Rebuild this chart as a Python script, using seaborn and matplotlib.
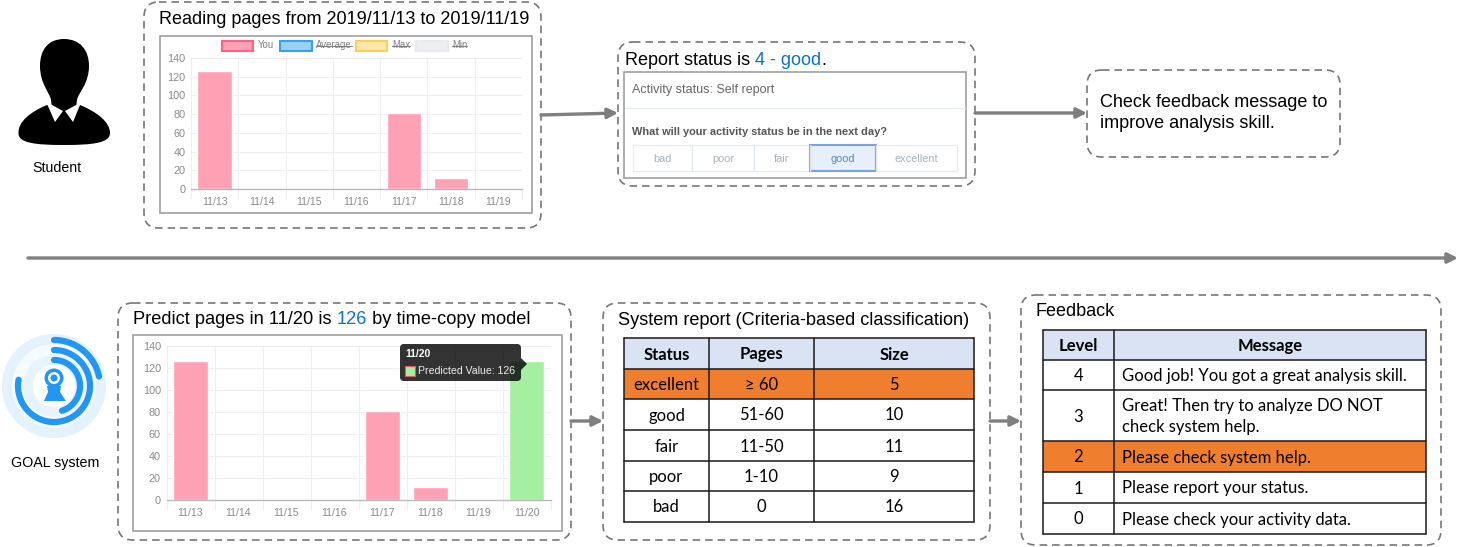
import numpy as np
import matplotlib
matplotlib.use("Agg")
import matplotlib.pyplot as plt
import seaborn as sns
from matplotlib.patches import FancyBboxPatch, Rectangle, Circle, PathPatch, Polygon
from matplotlib.path import Path

W, H = 1458, 547

# data
days_week = ["11/13", "11/14", "11/15", "11/16", "11/17", "11/18", "11/19"]
pages_week = [126, 0, 0, 0, 81, 12, 0]
days_pred = days_week + ["11/20"]
pages_pred = pages_week + [126]
series_pred = ["You"] * 7 + ["Predicted"]
legend_names = ["You", "Average", "Max", "Min"]
y_ticks = [0, 20, 40, 60, 80, 100, 120, 140]
status_btns = ["bad", "poor", "fair", "good", "excellent"]

report_head = ["Status", "Pages", "Size"]
report_status = ["excellent", "good", "fair", "poor", "bad"]
report_pages = ["≥ 60", "51-60", "11-50", "1-10", "0"]
report_size = ["5", "10", "11", "9", "16"]

fb_head = ["Level", "Message"]
fb_level = ["4", "3", "2", "1", "0"]
fb_msg = ["Good job! You got a great analysis skill.",
          "Great! Then try to analyze DO NOT\ncheck system help.",
          "Please check system help.",
          "Please report your status.",
          "Please check your activity data."]

PINK = "#FFA1B5"
GREEN = "#A5F0A0"
BLUE = "#0F72C8"
ORANGE = "#EF7E2E"
HEAD = "#DAE3F3"
GREY = "#7F7F7F"
SANS = ["Liberation Sans", "DejaVu Sans"]
TBL = ["Lato", "DejaVu Sans"]

sns.set_theme(style="white")
plt.rcParams["font.family"] = SANS

fig = plt.figure(figsize=(W / 100, H / 100), dpi=100)


def px_axes(x0, y0, x1, y1):
    return fig.add_axes([x0 / W, 1 - y1 / H, (x1 - x0) / W, (y1 - y0) / H])


def bar_chart(box, days, vals, palette, hue):
    a = px_axes(*box)
    sns.barplot(x=days, y=vals, hue=hue, palette=palette, dodge=False, width=0.73,
                saturation=1, legend=False, ax=a)
    n = len(days)
    a.set_xlim(-0.5, n - 0.5)
    a.set_ylim(0, 140)
    a.set_yticks(y_ticks)
    a.set_xticks(np.arange(-0.5, n), minor=True)
    a.grid(True, axis="y", color="#EFEFEF", lw=0.8)
    a.grid(True, axis="x", which="minor", color="#EFEFEF", lw=0.8)
    a.set_axisbelow(True)
    a.tick_params(axis="x", which="major", length=0, pad=6, labelsize=7.6, labelcolor="#8A8A8A")
    a.tick_params(axis="x", which="minor", bottom=True, length=7, color="#EFEFEF", width=0.8)
    a.tick_params(axis="y", length=0, pad=4, labelsize=7.8, labelcolor="#8A8A8A")
    for s in ["top", "right", "left"]:
        a.spines[s].set_visible(False)
    a.spines["bottom"].set_color("#B5B5B5")
    a.spines["bottom"].set_linewidth(0.9)
    return a


bar_chart((191, 58, 522, 189), days_week, pages_week, {"You": PINK}, ["You"] * 7)
bar_chart((166.5, 346, 550.5, 500), days_pred, pages_pred, {"You": PINK, "Predicted": GREEN}, series_pred)

# overlay in pixel coordinates
ov = fig.add_axes([0, 0, 1, 1], zorder=10)
ov.set_xlim(0, W)
ov.set_ylim(H, 0)
ov.axis("off")
ov.patch.set_alpha(0)


def dashed(x0, y0, x1, y1):
    ov.add_patch(FancyBboxPatch((x0, y0), x1 - x0, y1 - y0, boxstyle="round,pad=0,rounding_size=15",
                                fc="none", ec="#777777", lw=1.2, ls=(0, (4.5, 3))))


def frame(x0, y0, x1, y1):
    ov.add_patch(Rectangle((x0, y0), x1 - x0, y1 - y0, fc="none", ec="#A0A0A0", lw=1.2))


def pieces(x, y, parts, size):
    # text with coloured words, placed one after the other
    r = fig.canvas.get_renderer()
    for s, c in parts:
        t = ov.text(x, y, s, color=c, fontsize=size, va="center", ha="left", family=SANS)
        x += t.get_window_extent(r).width


def arrow(x0, y0, x1, y1):
    ov.annotate("", xy=(x1, y1), xytext=(x0, y0),
                arrowprops=dict(arrowstyle="-|>,head_length=0.5,head_width=0.25", color=GREY, lw=2.4,
                                shrinkA=0, shrinkB=0))


for b in [(144, 2, 541, 228), (618, 42, 975, 186), (1087, 70, 1340, 157),
          (118, 303, 571, 540), (603, 303, 990, 540), (1021, 295, 1441, 545)]:
    dashed(*b)
frame(160, 36, 532, 213)
frame(133, 335, 562, 531)
frame(624, 72, 966, 178)

arrow(541, 115, 618, 113)
arrow(975, 113, 1087, 113)
arrow(571, 421, 603, 421)
arrow(990, 421, 1021, 421)
arrow(28, 258, 1458, 258)

pieces(159, 19, [("Reading pages from 2019/11/13 to 2019/11/19", "black")], 12.95)
pieces(625, 60.5, [("Report status is ", "black"), ("4 - good", BLUE), (".", "black")], 13)
pieces(133, 319, [("Predict pages in 11/20 is ", "black"), ("126", BLUE), (" by time-copy model", "black")], 13.15)
pieces(618, 320.5, [("System report (Criteria-based classification)", "black")], 13.1)
pieces(1036, 311.5, [("Feedback", "black")], 13)
ov.text(1100, 113, "Check feedback message to\nimprove analysis skill.", fontsize=13, va="center",
        ha="left", linespacing=1.32, color="black")
ov.text(57, 168, "Student", fontsize=10.2, ha="center", va="center", color="black")
ov.text(55, 462.5, "GOAL system", fontsize=10.3, ha="center", va="center", color="black")

# legend of the top chart
leg_x = [(222, 253, 258), (280, 312, 316), (356, 387, 392), (416, 448, 452)]
leg_fc = ["#FFA1B5", "#9AD0F5", "#FFE6AA", "#EDEEF1"]
leg_ec = ["#FF6384", "#36A2EB", "#FFCE56", "#E7E9ED"]
for i, name in enumerate(legend_names):
    x0, x1, tx = leg_x[i]
    ov.add_patch(Rectangle((x0, 40.5), x1 - x0, 10, fc=leg_fc[i], ec=leg_ec[i], lw=1.5))
    t = ov.text(tx, 45.5, name, fontsize=6.9, color="#808080", va="center", ha="left")
    if i > 0:
        w = t.get_window_extent(fig.canvas.get_renderer()).width
        ov.plot([tx, tx + w], [45.5, 45.5], color="#808080", lw=0.8)

# tooltip
ov.add_patch(FancyBboxPatch((400, 344), 121, 37, boxstyle="round,pad=0,rounding_size=4", fc="#000000",
                            ec="none", alpha=0.8))
ov.add_patch(Polygon([(521, 358), (527, 364), (521, 370)], fc="#000000", ec="none", alpha=0.8))
ov.text(405, 354, "11/20", fontsize=7.5, color="white", weight="bold", va="center")
ov.add_patch(Rectangle((405, 365.5), 10.5, 10.5, fc=GREEN, ec="#F05060", lw=0.8))
ov.text(418, 370.5, "Predicted Value: 126", fontsize=7.6, color="#EEEEEE", va="center")

# self report form
ov.plot([625, 965], [108, 108], color="#E3EAF0", lw=0.8)
ov.text(632, 90, "Activity status: Self report", fontsize=9, color="#666666", va="center")
ov.text(632, 132, "What will your activity status be in the next day?", fontsize=7.9, color="#555555",
        weight="bold", va="center")
btn_edges = [633, 692, 754, 810, 876, 957]
ov.add_patch(Rectangle((633, 145), 324, 26, fc="none", ec="#E6EBF2", lw=0.9))
for i, name in enumerate(status_btns):
    x0, x1 = btn_edges[i], btn_edges[i + 1]
    on = name == "good"
    if i > 0:
        ov.plot([x0, x0], [145, 171], color="#E0E6EE", lw=0.9)
    ov.text((x0 + x1) / 2, 158.5, name, fontsize=7.9, ha="center", va="center",
            color="#5B87C4" if on else "#ABB2BC")
sel = btn_edges[status_btns.index("good")]
ov.add_patch(Rectangle((sel, 145), 66, 26, fc="#E6EFFA", ec="#78A5E0", lw=1.5, zorder=1))


def table(col_x, row_y, rows, hi, aligns):
    for r, cells in enumerate(rows):
        y0, y1 = row_y[r], row_y[r + 1]
        fc = HEAD if r == 0 else (ORANGE if r == hi else "white")
        ov.add_patch(Rectangle((col_x[0], y0), col_x[-1] - col_x[0], y1 - y0, fc=fc, ec="none"))
        for c, s in enumerate(cells):
            al = "center" if r == 0 else aligns[c]
            tx = (col_x[c] + col_x[c + 1]) / 2 if al == "center" else col_x[c] + 8
            ov.text(tx, (y0 + y1) / 2 + 1, s, ha=al, va="center", fontsize=12, family=TBL, color="black",
                    weight="bold" if r == 0 else "normal", linespacing=1.38)
    for y in row_y:
        ov.plot([col_x[0], col_x[-1]], [y, y], color="#1A1A1A", lw=1.1)
    for x in col_x:
        ov.plot([x, x], [row_y[0], row_y[-1]], color="#1A1A1A", lw=1.1)


table([624, 709, 814, 974], [338, 369, 399, 430, 461, 491, 522],
      [report_head] + [list(t) for t in zip(report_status, report_pages, report_size)], 1,
      ["center", "center", "center"])
table([1043, 1114, 1426], [330, 360, 390, 441, 472, 503, 534],
      [fb_head] + [list(t) for t in zip(fb_level, fb_msg)], 3, ["center", "left"])

# student icon
head = Path([(64, 39), (80, 39), (89, 50), (89, 66), (89, 84), (78, 93), (77, 100), (76, 108),
             (52, 108), (51, 100), (50, 93), (40, 84), (40, 66), (40, 50), (48, 39), (64, 39)],
            [Path.MOVETO] + [Path.CURVE4] * 6 + [Path.LINETO] * 3 + [Path.CURVE4] * 6)
body = Path([(47, 105), (30, 112), (18, 122), (18.5, 133), (18, 143), (35, 145), (64, 145),
             (93, 145), (110, 143), (110, 133), (110, 122), (97, 112), (80, 105), (47, 105)],
            [Path.MOVETO] + [Path.CURVE4] * 12 + [Path.CLOSEPOLY])
ov.add_patch(PathPatch(body, fc="black", ec="none"))
ov.add_patch(PathPatch(head, fc="black", ec="none"))
ov.add_patch(Polygon([(47.5, 105), (55, 122), (63, 111), (52, 105)], fc="white", ec="none"))
ov.add_patch(Polygon([(80, 105), (73, 122), (65, 111), (76, 105)], fc="white", ec="none"))

# goal system icon
cx, cy = 54, 386
ov.add_patch(Circle((cx, cy), 52, fc="#E3F2FD", ec="none"))
ov.add_patch(Circle((cx, cy), 42, fc="#F6FBFF", ec="none"))
ov.add_patch(Circle((cx, cy), 31, fc="#E8F4FD", ec="none"))
ov.add_patch(Circle((cx, cy), 21, fc="white", ec="none"))
for r, a0, a1 in [(46, 90, 12), (36, 90, -190), (26, 90, -72)]:
    t = np.radians(np.linspace(a0, a1, 80))
    ov.plot(cx + r * np.cos(t), cy - r * np.sin(t), color="#2196F3", lw=4.5, solid_capstyle="round")
ov.add_patch(Circle((cx, cy - 8), 9.5, fc="#2196F3", ec="none"))
ov.add_patch(Polygon([(47, cy), (61, cy), (60, cy + 6), (66, cy + 15), (44, cy + 15), (48, cy + 6)],
                     fc="#2196F3", ec="none"))
ov.add_patch(Circle((cx, cy - 8), 6, fc="white", ec="none"))
ov.add_patch(Circle((cx, cy - 8), 3.5, fc="#2196F3", ec="none"))

fig.savefig("out.png", dpi=100, facecolor="white")
